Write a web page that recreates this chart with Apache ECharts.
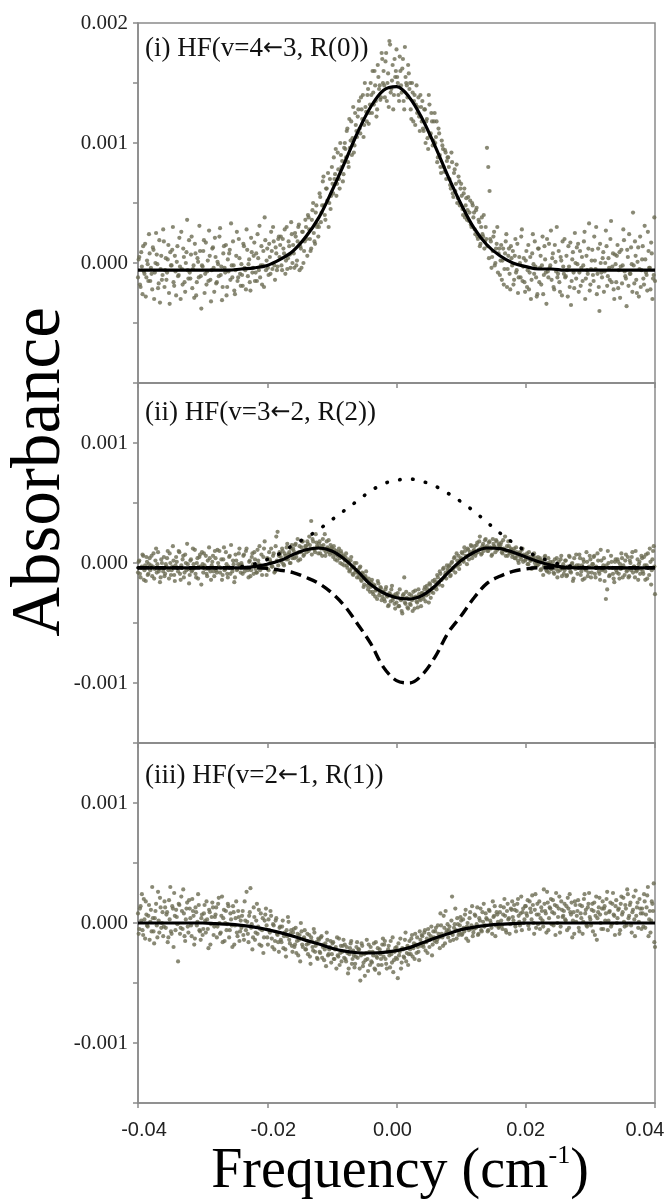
<!DOCTYPE html>
<html><head><meta charset="utf-8">
<script src="https://cdn.jsdelivr.net/npm/echarts@6/dist/echarts.min.js"></script>
<style>html,body{margin:0;padding:0;background:#fff}#c{width:667px;height:1203px}</style>
</head><body><div id="c"></div>
<script>
// Units: x in 1e-3 cm^-1, y in 1e-5 absorbance (axis labels convert back)
const X_TICKS = [-40, -20, 0, 20, 40];
const Y_RANGES = [[-100, 200], [-150, 150], [-150, 150]];
const PANEL_LABELS = [['(i) HF(v=4', '3, R(0))'], ['(ii) HF(v=3', '2, R(2))'], ['(iii) HF(v=2', '1, R(1))']];
const ARROW = '\u2190';
const X_TITLE = 'Frequency (cm';
const X_TITLE_SUP = '-1';
const Y_TITLE = 'Absorbance';

// Fitted curves sampled at x = -40..40 step 2
const FIT_X = [-40,-38,-36,-34,-32,-30,-28,-26,-24,-22,-20,-18,-16,-14,-12,-10,-8,-6,-4,-2,0,2,4,6,8,10,12,14,16,18,20,22,24,26,28,30,32,34,36,38,40];
const FIT_I = [-6,-6,-6,-6,-6,-6,-6,-6,-5,-4,-2,3,10,22,38,60,84,109,130,144,147,138,120,97,72,49,29,15,6,0,-3,-5,-5,-6,-6,-6,-6,-6,-6,-6,-6];
const FIT_II = [-4,-4,-4,-4,-4,-4,-4,-4,-4,-3,-1,2,7,11,12.5,10,3,-7,-18,-25,-29,-30,-27,-19,-8,2,9,12.5,12,9,5,1,-2,-3.5,-4,-4,-4,-4,-4,-4,-4];
const COMP_II_POS = [-4,-4,-4,-4,-4,-4,-4,-4,-3,-1,3,8,15,21,28,36,44,52,60,66,69,70,68,64,58,51,43,34,25,17,10,5,1,-2,-3,-4,-4,-4,-4,-4,-4];
const COMP_II_NEG = [-4,-4,-4,-4,-4,-4,-4,-4,-4,-4,-4.5,-6,-8,-12,-17,-25,-36,-51,-67,-87,-98,-100,-93,-78,-58,-44,-29,-17,-11,-7,-5,-4,-4,-4,-4,-4,-4,-4,-4,-4,-4];
const FIT_III = [0,0,0,0,0,0,-0.5,-1,-2,-3.5,-5.5,-8,-11,-14.5,-17.5,-21,-23.5,-24.8,-25,-24.5,-23,-20.5,-16.5,-12.5,-9,-5.5,-3.5,-2,-1,-0.5,0,0,0,0,0,0,0,0,0,0,0];

// Measured points, scan A at x = -40..40 step 0.2, scan B at x = -39.9..39.9 step 0.2
const SCAN_A_START = -40, SCAN_B_START = -39.9, SCAN_STEP = 0.2;
const DATA_I = [
-12,5,-20,-3,14,-9,-28,2,-15,8, -4,-22,11,-8,25,-1,-17,-33,6,-10,
18,-6,-14,3,-25,9,-2,30,-19,-7, 1,-11,21,-30,-5,12,-16,0,36,-13,
-8,7,-21,-2,16,-27,4,-12,10,-38, -3,19,-9,-18,2,27,-14,-6,13,-24,
5,-16,-1,22,-10,-31,8,-4,15,-20, -7,11,33,-12,-2,-26,6,-15,20,-9,
-1,-19,14,-6,28,-11,3,-23,9,-4, 17,-8,-15,4,31,-2,-18,10,38,-6,
12,-10,5,26,-5,18,-14,8,-3,22, 15,-2,20,8,-9,30,4,14,-4,24,
15,-4,22,2,30,-6,12,26,0,18, 30,6,38,20,12,44,25,16,48,32,
30,55,42,68,48,36,62,75,50,45, 80,58,70,95,66,78,62,90,85,74,
100,88,112,80,96,118,104,92,125,110, 122,135,108,128,140,115,130,118,145,125,
150,125,142,160,135,128,155,148,138,170, 160,138,175,150,130,182,145,165,140,155,
178,150,135,160,142,170,128,155,148,165, 145,128,150,118,140,132,125,138,110,130,
135,110,128,118,104,140,106,125,98,118, 100,118,88,108,80,102,95,76,92,85,
88,70,62,84,55,78,66,50,72,48, 66,45,58,38,54,44,35,52,30,48,
42,24,46,20,34,16,38,22,12,30, 96,80,60,18,5,22,-2,12,30,8,
-10,15,2,-18,8,24,-5,12,-22,4, 10,-14,20,-6,-25,5,-12,28,-3,-16,
2,-20,15,-8,-30,8,-1,18,-12,-26, 12,-4,-18,22,-10,3,-34,-7,16,-2,
-14,8,-22,1,30,-9,-16,5,-27,-3, 20,-11,-6,14,-20,-35,3,-8,25,-13,
-1,-24,10,-4,-15,18,-30,6,-9,33, -18,2,-10,22,-5,-26,12,-40,0,-12,
9,-7,27,-19,4,-14,35,-3,-22,7, -16,15,-6,-29,11,-2,19,-11,-36,5,
24,-9,-1,42,-17,6,-25,13,-5,-20, 3,-13,31,-8,-23,10,-4,17,-30,-10,
-15];
const DATA_I_B = [
3,-18,9,-26,-7,16,-12,-1,24,-15, -9,13,-30,0,7,-21,19,-5,-14,28,
-20,4,-8,15,-34,-2,11,-16,6,-27, 14,-10,-3,26,-18,5,-24,9,-6,19,
-13,22,-5,-29,8,-16,1,31,-11,-2, 10,-25,17,-7,-15,6,-32,12,-4,21,
-17,1,-11,29,-3,-20,14,-8,-27,3, 8,-14,-2,18,-23,-6,26,-12,4,-19,
-10,16,-4,-22,11,-1,-16,21,-8,6, -15,8,24,-6,-12,14,-2,-20,19,2,
-4,16,-9,10,30,-2,13,-6,20,5, 22,-6,12,28,2,-5,18,7,34,0,
8,25,-2,18,32,14,-4,26,10,36, 20,40,28,10,36,50,18,42,30,22,
58,34,48,72,40,62,52,30,70,56, 66,88,74,56,92,70,100,80,68,96,
95,110,84,120,102,90,130,98,115,105, 128,112,138,120,105,150,126,140,116,132,
140,160,132,148,122,165,145,136,175,150, 148,168,135,158,185,142,152,128,170,160,
155,140,172,148,162,135,180,150,138,158, 150,120,142,135,115,148,130,122,140,118,
112,128,100,120,95,132,108,118,102,125, 105,84,112,90,75,98,80,94,70,88,
80,65,92,58,75,60,82,54,68,62, 56,40,62,48,36,55,42,32,50,38,
28,44,22,36,14,30,24,40,18,20, 14,4,20,-4,10,26,0,16,-8,12,
2,-14,12,-5,18,-20,6,-9,14,-2, -18,6,-8,16,-12,0,22,-15,4,-24,
10,-6,-22,5,-14,24,-9,-3,-28,12, -16,6,-2,-26,14,-8,20,-12,-4,27,
4,-20,15,-7,-12,10,-24,2,18,-9, -12,6,-28,-3,17,-15,9,-21,0,13,
16,-8,-19,5,-2,26,-13,-6,12,-23, -5,11,-15,2,30,-9,-20,16,-8,4,
-24,0,14,-11,-4,20,-16,8,-30,-1, 6,-21,9,-3,-17,28,-7,-13,11,-19,
-9,13,-24,-2,18,-14,1,-28,22,-6, 14,-18,3,-10,26,-4,-22,8,-13,38];
const DATA_II = [
-8,2,-12,-3,6,-6,-15,1,-9,4, -2,-11,8,-5,12,-1,-7,-16,3,-4,
5,-9,-3,10,-13,0,-6,14,-10,-2, 1,-7,9,-14,-4,6,-8,0,16,-5,
-10,3,-6,-1,11,-12,4,-3,7,-18, -1,8,-5,-9,2,13,-7,-2,6,-11,
4,-8,0,10,-4,-14,3,-6,9,-9, -3,6,15,-7,-1,-12,2,-5,8,-2,
0,-9,7,-4,12,-6,1,-11,5,-1, 9,-5,-8,2,14,-2,-10,5,18,-4,
4,-6,3,12,-3,8,-7,22,26,6, 8,1,10,-2,6,13,3,9,0,15,
12,4,16,8,2,14,9,18,6,11, 14,18,10,15,35,20,12,9,17,13,
16,8,14,20,11,6,18,12,9,15, 13,5,11,7,2,9,4,10,-1,6,
2,8,-4,1,-6,5,-9,-3,-8,0, -6,-12,-3,-15,-9,-18,-11,-14,-22,-16,
-20,-14,-26,-19,-23,-30,-17,-25,-21,-28, -24,-32,-20,-28,-35,-26,-22,-31,-27,-38,
-33,-25,-36,-30,-40,-27,-12,-34,-29,-38, -26,-35,-31,-24,-38,-28,-33,-22,-30,-36,
-25,-30,-20,-27,-22,-33,-18,-24,-15,-21, -16,-22,-12,-18,-9,-14,-5,-12,-8,-2,
-7,-2,-10,1,-4,5,-3,2,6,-1, 4,8,1,10,5,12,3,9,14,7,
11,6,15,9,18,12,8,16,13,20, 14,10,18,12,7,16,13,19,11,15,
13,17,8,12,22,10,6,14,9,11, 7,12,4,9,2,8,5,11,1,6,
3,8,-1,5,2,-4,6,0,4,-2, -1,4,-5,2,-3,6,-6,0,-8,1,
-5,1,-9,-2,4,-7,-3,3,-11,-1, -6,2,-10,-4,5,-8,0,-13,-3,7,
-9,-2,4,-7,-14,1,-5,9,-11,-3, 3,-8,-1,6,-12,-4,2,-9,11,-6,
-2,-15,-30,-22,0,-10,6,-4,-13,1, -6,3,-9,-1,8,-12,-4,2,-7,5,
-11,0,5,-8,-3,10,-6,-14,1,-5, 4,-9,-2,7,-13,-4,12,-18,3,14,
-26];
const DATA_II_B = [
1,-9,-4,7,-14,-2,5,-10,-1,-6, 6,-3,-13,2,-8,9,-5,-12,0,-7,
-11,-1,4,-6,8,-10,-3,2,-15,5, -4,10,-9,-2,3,-12,7,-6,-1,-17,
2,-7,12,-4,-9,0,-13,5,-3,9, -8,-2,6,-11,-5,4,-14,1,-7,10,
-6,11,-3,-8,3,-10,13,-5,-1,-12, 5,-9,-4,2,-16,7,-6,-1,12,-8,
-2,6,-7,10,-4,-12,2,-6,8,-9, 3,-8,11,-1,-6,7,-4,12,-2,-10,
-5,9,1,-3,6,-8,14,2,-2,9, 5,12,-1,8,3,16,7,0,12,4,
10,15,5,20,9,3,13,18,7,14, 9,16,22,12,7,18,11,24,14,8,
18,12,6,15,24,9,13,19,7,12, 8,14,3,10,6,12,0,8,5,-2,
5,-2,3,-7,2,-4,-10,0,-6,-12, -9,-4,-14,-8,-20,-12,-7,-19,-13,-24,
-16,-24,-18,-28,-22,-15,-27,-20,-31,-24, -30,-22,-27,-36,-25,-32,-19,-29,-34,-26,
-28,-36,-22,-31,-42,-26,-33,-24,-37,-30, -34,-27,-40,-29,-23,-32,-37,-26,-31,-25,
-28,-22,-32,-19,-26,-17,-29,-21,-25,-14, -20,-10,-16,-7,-14,-19,-4,-10,-13,-5,
-3,-11,0,-6,4,-8,8,-2,-5,3, 9,2,13,6,-1,11,7,15,4,10,
14,8,17,11,22,7,14,10,19,12, 10,17,13,6,20,14,9,18,12,16,
15,9,19,11,6,14,18,8,12,5, 10,4,13,6,0,9,3,12,7,2,
6,-1,9,2,-5,4,8,-3,1,5, 3,-6,1,-10,5,-3,-7,4,-1,-5,
-2,-8,3,-5,-12,1,-6,6,-4,-9, 2,-11,-3,6,-7,-1,-15,4,-5,-2,
-4,7,-10,-2,3,-13,-6,1,-8,6, -12,-1,5,-9,-3,8,-7,-14,2,-5,
4,-7,-2,10,-11,-4,1,-9,-16,3, -8,1,-13,-5,4,-2,-10,7,-6,-12,
2,-6,9,-3,-12,-7,3,-1,-9,6, -7,5,-14,-2,8,-10,1,-6,10,-3];
const DATA_III = [
8,-5,14,24,-10,3,18,-2,6,-14, 11,30,-7,4,16,-12,2,21,-4,9,
-3,13,7,-16,19,30,-9,12,25,-6, 5,-32,15,-4,10,28,-11,3,17,-8,
12,-2,20,6,-13,9,1,15,-7,4, -10,8,2,18,-5,11,-18,5,13,-3,
7,-12,16,0,-8,22,4,-15,10,-1, 14,-6,3,-20,9,-2,18,-11,5,-7,
-4,10,-14,2,26,-9,6,29,-1,-12, 5,-8,16,-3,-18,8,-6,-25,2,12,
-12,3,-8,6,-20,-2,-15,4,-10,-24, -3,-16,2,-11,-22,-6,5,-14,-9,-19,
-8,-20,-4,-15,-27,-10,0,-18,-13,-6, -22,-9,-17,-28,-12,-20,-5,-24,-16,-30,
-14,-25,-11,-20,-31,-17,-8,-27,-22,-15, -26,-16,-30,-20,-12,-28,-35,-19,-24,-14,
-18,-32,-25,-38,-21,-15,-30,-27,-34,-20, -29,-22,-48,-17,-36,-26,-31,-14,-40,-24,
-20,-33,-27,-38,-16,-29,-35,-22,-30,-18, -28,-15,-34,-24,-19,-37,-26,-12,-31,-21,
-20,-46,-27,-13,-33,-22,-29,-8,-25,-35, -15,-26,-10,-21,-30,-18,-12,-24,-7,-19,
-11,-20,-6,-16,-25,-9,-14,-3,-18,-12, -7,-16,-2,-12,8,-9,-19,-4,10,-6,
-12,-3,-8,22,-14,-1,-6,4,-10,-2, 2,-9,-4,7,-13,0,-6,9,-2,-11,
-5,6,-1,-10,4,12,-7,1,-3,8, 3,-6,10,0,-9,5,14,-2,7,-4,
9,2,-5,13,6,-8,16,4,-1,11, 5,15,-3,10,20,1,8,-6,12,3,
14,6,-2,18,9,23,0,11,-4,16, 7,-5,13,2,28,10,-8,17,4,12,
-1,19,8,-10,14,5,22,-3,11,6, 16,2,-6,12,24,7,-12,9,18,1,
10,-4,15,4,-9,20,8,-2,13,25, 3,11,-7,17,6,-14,9,21,0,12,
-5,14,8,26,2,10,-3,16,7,-10, 19,4,12,-6,22,9,1,15,-2,24,
6,17,-8,11,3,27,13,-4,20,8, 12,-3,18,7,23,-11,10,2,16,33,
-20];
const DATA_III_B = [
-9,12,2,-6,20,-13,7,-3,15,1, -7,4,-17,10,-2,26,-8,13,0,-11,
18,-4,9,-12,3,-7,14,-20,6,11, -1,16,-9,22,-5,8,-15,12,-3,19,
4,-11,10,-18,13,-2,24,-6,-14,7, -5,15,-8,3,-21,9,-1,17,-10,5,
13,-3,21,-9,6,-16,11,0,-6,16, -12,8,-2,14,-18,4,-8,10,-15,2,
6,-10,18,-6,1,-16,9,-4,-22,13, -14,2,-9,11,-5,-19,4,-12,7,-2,
-18,-6,10,-13,-1,-22,2,-9,-16,-4, -14,-3,-21,-8,-28,-11,1,-17,-6,-24,
-5,-18,-25,-9,-14,-32,-7,-20,-12,-22, -18,-26,-10,-34,-15,-23,-8,-19,-29,-13,
-24,-12,-29,-18,-22,-36,-14,-26,-20,-33, -17,-30,-22,-38,-27,-13,-25,-32,-19,-29,
-30,-20,-42,-26,-17,-34,-23,-37,-28,-16, -22,-38,-27,-19,-33,-44,-25,-30,-18,-35,
-32,-24,-17,-39,-28,-21,-42,-26,-35,-13, -18,-30,-38,-22,-27,-15,-33,-41,-24,-29,
-30,-17,-24,-38,-21,-28,-14,-32,-19,-26, -22,-13,-28,-17,-9,-25,-20,-31,-14,-10,
-18,-8,-23,-13,-5,-20,-11,-27,-7,-15, -4,-14,-9,-21,-2,-12,6,-17,-8,-1,
-6,-15,2,-10,-4,12,-13,-1,-8,5, -10,3,-7,11,-3,-15,4,-5,14,-8,
7,-4,13,-9,2,-6,9,16,-2,4, -7,11,2,-4,18,6,-11,9,1,-3,
14,-2,7,20,-6,10,3,-9,12,18, 2,11,-7,16,6,-2,22,9,0,14,
8,19,-5,12,3,15,-9,24,7,-1, 18,4,10,-3,16,8,26,-6,13,20,
9,-2,15,25,0,12,-8,18,5,10, 3,14,21,-4,9,17,2,-9,15,6,
19,-7,8,14,1,24,11,-3,16,5, -2,16,10,-10,22,4,13,7,-5,18,
12,2,20,-6,9,17,-1,25,6,14, 0,11,-9,16,7,21,-3,12,28,4,
15,-2,9,22,-11,6,17,1,12,-5, 8,24,-4,13,30,3,-8,18,10,-16];

const GRID_TOPS = [23, 383, 743];
const GRID_H = 360;
const GRAY = '#8a8a8a';
const DOT = '#6b6b52';
const SERIF = '"Liberation Serif", "Times New Roman", serif';
const SANS = '"Liberation Sans", Arial, sans-serif';

const pts = (arr, x0) => arr.map((v, i) => [x0 + i * SCAN_STEP, v]);
const fit = arr => arr.map((v, i) => [FIT_X[i], v]);

const chart = echarts.init(document.getElementById('c'), null, { renderer: 'canvas' });
const panels = [0, 1, 2];

const series = [];
[[DATA_I, DATA_I_B], [DATA_II, DATA_II_B], [DATA_III, DATA_III_B]].forEach((pair, k) => {
  const d = pts(pair[0], SCAN_A_START).concat(pts(pair[1], SCAN_B_START));
  series.push({ type: 'scatter', xAxisIndex: k, yAxisIndex: k, data: d, symbolSize: 4.2,
    itemStyle: { color: DOT }, silent: true, z: 2 });
});
const lineBase = (k, data, ls) => ({ type: 'line', xAxisIndex: k, yAxisIndex: k, data: fit(data),
  smooth: 0.35, showSymbol: false, symbol: 'none', silent: true, z: 4,
  lineStyle: Object.assign({ color: '#000', width: 3.2 }, ls) });
series.push(lineBase(1, COMP_II_POS, { type: [0.5, 12.5], cap: 'round', width: 3.6 }));
series.push(lineBase(1, COMP_II_NEG, { type: [11, 6], width: 3.4 }));
series.push(lineBase(0, FIT_I, {}));
series.push(lineBase(1, FIT_II, {}));
series.push(lineBase(2, FIT_III, {}));

// per-tick label nudges (padding) in tick order
const X_LABEL_PADS = [[0, 0, 0, 12], [0, 0, 0, 12], [0, 8, 0, 0], [0, 0, 0, 0], [0, 20, 0, 0]];
const xRich = {};
X_LABEL_PADS.forEach((p, i) => {
  xRich['p' + i] = { fontFamily: SANS, fontSize: 20, color: '#222', padding: p };
});

const option = {
  animation: false,
  backgroundColor: '#fff',
  grid: panels.map(k => ({ left: 138, top: GRID_TOPS[k], width: 517, height: GRID_H, outerBoundsMode: 'none',
    containLabel: false, show: true, borderColor: GRAY, borderWidth: 1.5, backgroundColor: 'transparent' })),
  xAxis: panels.map(k => ({
    type: 'value', gridIndex: k, min: X_TICKS[0], max: X_TICKS[X_TICKS.length - 1], interval: 20,
    axisLine: { show: true, onZero: false, lineStyle: { color: GRAY, width: 1.5 } },
    axisTick: { show: true, inside: false, length: 5, lineStyle: { color: GRAY, width: 1.5 } },
    axisLabel: { show: k === 2, margin: 17, fontFamily: SANS, fontSize: 20, color: '#222',
      showMinLabel: true, showMaxLabel: true, hideOverlap: false, rich: xRich,
      formatter: v => '{p' + X_TICKS.indexOf(Math.round(v)) + '|' + (v / 1000).toFixed(2) + '}' },
    splitLine: { show: false }
  })),
  yAxis: panels.map(k => ({
    type: 'value', gridIndex: k, min: Y_RANGES[k][0], max: Y_RANGES[k][1], interval: 50,
    axisLine: { show: true, onZero: false, lineStyle: { color: GRAY, width: 1.5 } },
    axisTick: { show: true, inside: false, length: 5, lineStyle: { color: GRAY, width: 1.5 } },
    axisLabel: { margin: 10, fontFamily: SERIF, fontSize: 21, color: '#222',
      showMinLabel: true, showMaxLabel: true,
      formatter: v => (v % 100 === 0 && !(k === 0 && v === Y_RANGES[0][0])) ? (v / 100000).toFixed(3) : '' },
    splitLine: { show: false }
  })),
  series: series,
  graphic: [
    { type: 'text', x: 41, y: 472, rotation: Math.PI / 2, silent: true,
      style: { text: Y_TITLE, fontFamily: SERIF, fontSize: 69, fill: '#000', align: 'center', verticalAlign: 'middle' } },
    { type: 'text', x: 400, y: 1172, silent: true,
      style: { text: '{a|' + X_TITLE + '}{s|' + X_TITLE_SUP + '}{a|)}', fill: '#000', align: 'center', verticalAlign: 'middle',
        fontFamily: SERIF, fontSize: 56,
        rich: { a: { fontFamily: SERIF, fontSize: 56, lineHeight: 62, fill: '#000' },
                s: { fontFamily: SERIF, fontSize: 26, lineHeight: 26, verticalAlign: 'top', fill: '#000', padding: [2, 0, 0, 0] } } } }
  ].concat(panels.map(k => ({ type: 'text', x: 145, y: GRID_TOPS[k] + [26, 30, 33][k], silent: true,
      style: { text: '{t|' + PANEL_LABELS[k][0] + '}{ar|' + ARROW + '}{t|' + PANEL_LABELS[k][1] + '}',
        fontFamily: SERIF, fontSize: 27, fill: '#111', align: 'left', verticalAlign: 'middle',
        rich: { t: { fontFamily: SERIF, fontSize: 27, fill: '#111', lineHeight: 30 },
                ar: { fontFamily: '"DejaVu Sans", sans-serif', fontSize: 24, fill: '#111', lineHeight: 30 } } } })))
};
chart.setOption(option);
</script>
</body></html>
